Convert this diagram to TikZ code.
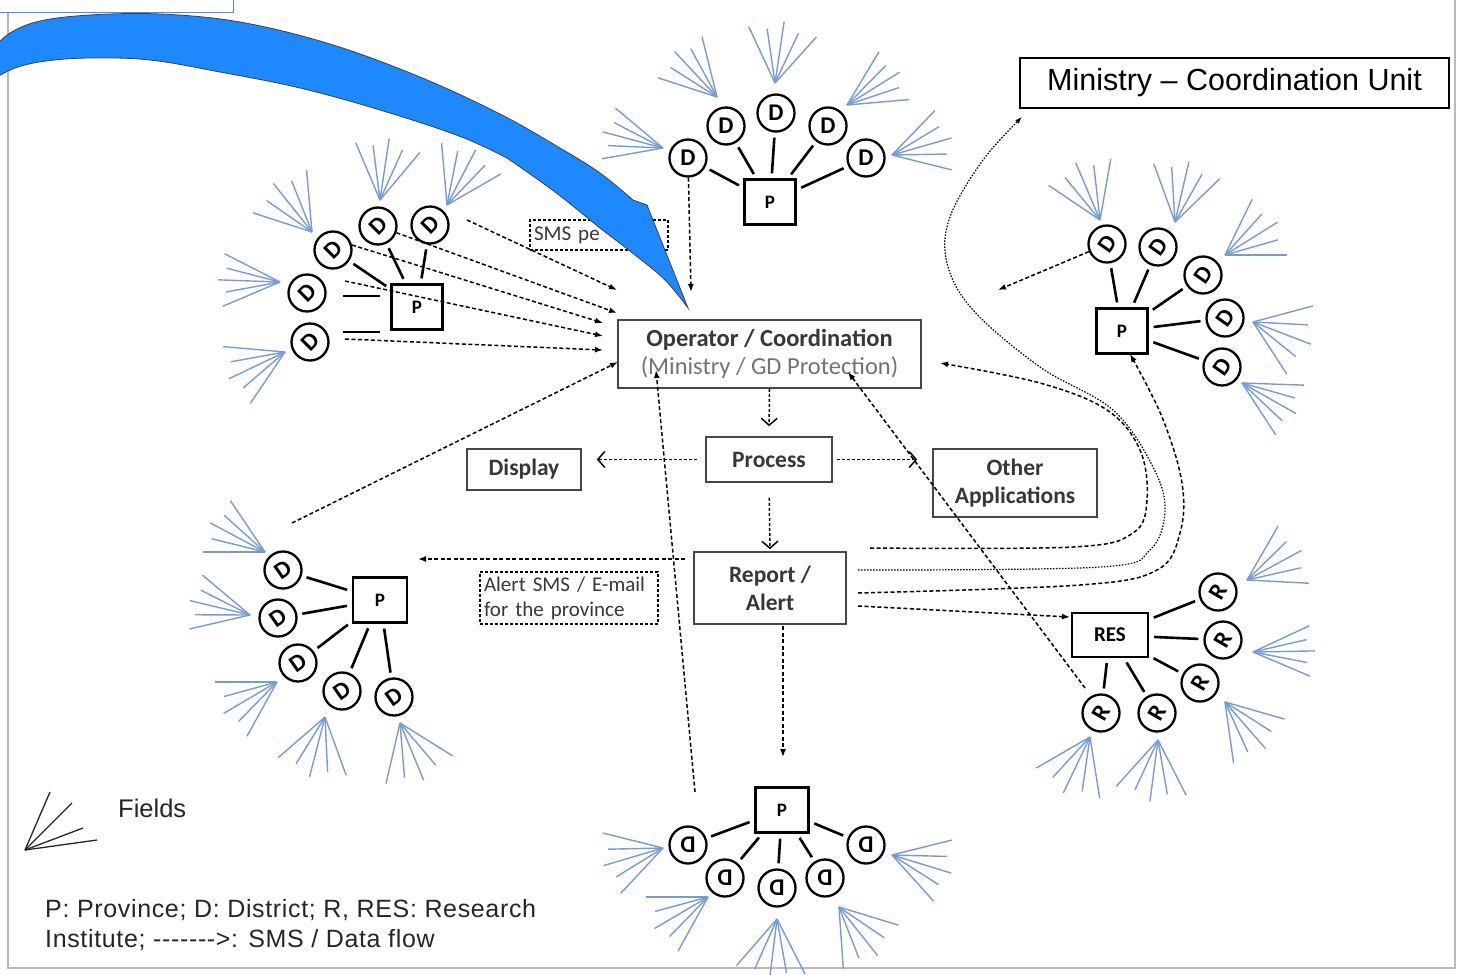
\documentclass[tikz,border=0pt]{standalone}
\usepackage{fontspec}
\setmainfont{Carlito}
\newfontfamily\arial{Liberation Sans}
\newfontfamily\arialsp[LetterSpace=2.6]{Liberation Sans}
\usetikzlibrary{arrows.meta}
\definecolor{fanc}{RGB}{120,155,210}
\definecolor{arrowblue}{RGB}{30,137,255}
\definecolor{rectblue}{RGB}{70,140,240}
\definecolor{boxgray}{RGB}{70,70,70}
\definecolor{txtgray}{RGB}{55,55,55}
\definecolor{subgray}{RGB}{115,115,115}
\newcommand{\fan}[4]{%
  \foreach \k in {0,...,4}{%
    \pgfmathsetmacro{\fanang}{#3+(#4-#3)*\k/4}%
    \pgfmathsetmacro{\fanlen}{62-7*mod(\k,2)}%
    \draw[fanline] (#1,#2) -- ++(\fanang:\fanlen);}}
\begin{document}
\begin{tikzpicture}[x=1pt,y=-1pt,
  pbox/.style={draw, line width=2.3pt, minimum width=51pt, minimum height=45pt, inner sep=0pt, font=\bfseries\fontsize{19}{19}\selectfont},
  dcirc/.style={circle, draw, line width=2.3pt, minimum size=37pt, inner sep=0pt, font=\bfseries\fontsize{24}{24}\selectfont},
  link/.style={line width=2.6pt, shorten <=5pt, shorten >=5pt},
  fanline/.style={draw=fanc, line width=1.4pt},
  cbox/.style={draw=boxgray, line width=1.6pt, inner sep=0pt, align=center, font=\bfseries\fontsize{23.5}{28}\selectfont, text=txtgray},
  dbox/.style={draw=black, dash pattern=on 3pt off 2pt, line width=1.4pt, inner xsep=4pt, inner ysep=0pt, align=left, font=\fontsize{21}{25}\selectfont, text=txtgray},
  flow/.style={line width=1.5pt, dash pattern=on 4pt off 2.5pt, -{Latex[length=8pt,width=6pt]}},
  dotflow/.style={line width=1.2pt, dash pattern=on 1.5pt off 1.5pt, -{Latex[length=7pt,width=5pt]}},
  pflow/.style={line width=1.5pt, dash pattern=on 3pt off 2pt, -{Straight Barb[length=7pt,width=16pt,line width=1.5pt]}}
]
\useasboundingbox (0,0) rectangle (1460,975);
\clip (0,0) rectangle (1460,975);
\fill[white] (0,0) rectangle (1460,975);
% frame
\draw[gray!55, line width=1.2pt] (8,12) -- (8,968) -- (1455,968) -- (1455,0);
\draw[rectblue, line width=1pt] (0,12) -- (233,12) -- (233,0);

% ---------- central boxes ----------
\node[cbox, draw=black, text=black, minimum width=429pt, minimum height=50pt, font=\arial\fontsize{30.5}{30.5}\selectfont] (mcu) at (1234.5,83) {Ministry – Coordination Unit};
\node[cbox, minimum width=303pt, minimum height=68pt, font=\bfseries\fontsize{24.5}{28}\selectfont] (op) at (769.5,354) {Operator / Coordination\\{\mdseries\color{subgray}(Ministry / GD Protection)}};
\node[cbox, minimum width=126pt, minimum height=45pt] (proc) at (769,459.5) {Process};
\node[cbox, minimum width=114pt, minimum height=41pt] (disp) at (524,469.5) {Display};
\node[cbox, minimum width=164pt, minimum height=68pt] (other) at (1015,483) {Other\\Applications};
\node[cbox, minimum width=152pt, minimum height=72pt] (rep) at (770,588) {Report /\\Alert};
\node[dbox, minimum height=30pt, text width=130pt] (sms) at (599,235) {SMS pe};
\node[dbox, minimum height=52pt, text width=170pt] (alert) at (569,598) {Alert SMS / E-mail\\for the province};

% ---------- province boxes ----------
\node[pbox] (pT) at (770,202) {P};
\node[pbox] (pLT) at (417,307) {P};
\node[pbox, minimum width=54pt] (pLB) at (380,600) {P};
\node[pbox] (pR) at (1122,331) {P};
\node[pbox, minimum width=53pt] (pB) at (782,810) {P};
\node[pbox, minimum width=76pt, minimum height=44pt, font=\bfseries\fontsize{21}{21}\selectfont] (res) at (1110,635) {RES};

% ---------- district circles ----------
\foreach \n/\x/\y in {dT1/688/158, dT2/726/126, dT3/776/113, dT4/828/126, dT5/866/158}
  \node[dcirc] (\n) at (\x,\y) {D};
\foreach \n/\x/\y in {dLT1/310/342, dLT2/307/293, dLT3/333/250, dLT4/378/226, dLT5/430/225}
  \node[dcirc] (\n) at (\x,\y) {\rotatebox{45}{D}};
\foreach \n/\x/\y in {dLB1/283/570, dLB2/278/618, dLB3/298/663, dLB4/342/691, dLB5/394/697}
  \node[dcirc] (\n) at (\x,\y) {\rotatebox{35}{D}};
\foreach \n/\x/\y in {dR1/1107/244, dR2/1158/247, dR3/1203/275, dR4/1225/318, dR5/1222/367}
  \node[dcirc] (\n) at (\x,\y) {\rotatebox{55}{D}};
\foreach \n/\x/\y in {dB1/688/845, dB2/725/878, dB3/777/888, dB4/825/878, dB5/866/845}
  \node[dcirc] (\n) at (\x,\y) {\reflectbox{D}};
\foreach \n/\x/\y in {r1/1218/592, r2/1223/640, r3/1200/683, r4/1157/713, r5/1101/713}
  \node[dcirc] (\n) at (\x,\y) {\rotatebox{60}{R}};

% ---------- links ----------
\foreach \a/\b in {dT1/pT, dT2/pT, dT3/pT, dT4/pT, dT5/pT,
                   dLT3/pLT, dLT4/pLT, dLT5/pLT,
                   dLB1/pLB, dLB2/pLB, dLB3/pLB, dLB4/pLB, dLB5/pLB,
                   dR1/pR, dR2/pR, dR3/pR, dR4/pR, dR5/pR,
                   dB1/pB, dB2/pB, dB3/pB, dB4/pB, dB5/pB,
                   r1/res, r2/res, r3/res, r4/res, r5/res}
  \draw[link] (\a) -- (\b);
\coordinate (k1a) at (343,332); \coordinate (k1b) at (380,332);
\coordinate (k2a) at (343,296); \coordinate (k2b) at (380,296);
\draw[line width=2.6pt] (k1a) -- (k1b);
\draw[line width=2.6pt] (k2a) -- (k2b);

% ---------- fields fans ----------
\fan{663}{148}{-140}{-190}
\fan{717}{97}{-104}{-162}
\fan{775}{83}{-115}{-48}
\fan{847}{105}{-59}{-5}
\fan{892}{155}{-46}{14}
\fan{312}{232}{-95}{-162}
\fan{380}{200}{-113}{-50}
\fan{447}{205}{-95}{-30}
\fan{280}{282}{157}{207}
\fan{285}{352}{124}{185}
\fan{265}{552}{-124}{-180}
\fan{250}{615}{-140}{-193}
\fan{277}{682}{180}{119}
\fan{325}{717}{139}{70}
\fan{400}{723}{103}{32}
\fan{1100}{220}{-146}{-80}
\fan{1175}{222}{-110}{-44}
\fan{1225}{255}{-64}{0}
\fan{1253}{322}{-15}{57}
\fan{1242}{383}{2}{57}
\fan{1247}{580}{-60}{3}
\fan{1253}{652}{-25}{23}
\fan{1225}{702}{16}{82}
\fan{1158}{740}{132}{63}
\fan{1090}{737}{150}{81}
\fan{663}{848}{-166}{-227}
\fan{708}{897}{180}{119}
\fan{777}{919}{131}{63}
\fan{839}{907}{17}{86}
\fan{892}{855}{-14}{48}

% ---------- data flows ----------
\coordinate (eT) at (691,292);
\draw[flow] (dT1) -- (eT);
\coordinate (s1) at (467,220); \coordinate (e1) at (617,290);
\coordinate (e2) at (617,313);
\coordinate (s3) at (352,245); \coordinate (e3) at (603,323);
\coordinate (s4) at (345,281); \coordinate (e4) at (603,336);
\coordinate (s5) at (345,339); \coordinate (e5) at (603,350);
\coordinate (s6) at (292,523); \coordinate (e6) at (618,362);
\draw[flow] (s1) -- (e1);
\draw[flow] (dLT4) -- (e2);
\draw[flow] (s3) -- (e3);
\draw[flow] (s4) -- (e4);
\draw[flow] (s5) -- (e5);
\draw[flow] (s6) -- (e6);
\coordinate (s7) at (695,792); \coordinate (e7) at (656,370);
\draw[flow] (s7) -- (e7);
\coordinate (s8) at (1085,688); \coordinate (e8) at (848,372);
\draw[flow] (s8) -- (e8);
\coordinate (e9) at (998,290);
\draw[flow] (dR1) -- (e9);
\coordinate (s10) at (685,559); \coordinate (e10) at (418,559);
\draw[flow] (s10) -- (e10);
\coordinate (s11) at (783,626); \coordinate (e11) at (783,757);
\draw[flow] (s11) -- (e11);
\coordinate (s12) at (858,606); \coordinate (e12) at (1070,617);
\draw[flow] (s12) -- (e12);
% curves
\draw[flow] plot[smooth, tension=0.6] coordinates {(870,548) (1073,547) (1133,533) (1147,500) (1140,450) (1107,410) (1040,383) (940,363)};
\draw[dotflow] plot[smooth, tension=0.6] coordinates {(858,570) (1100,567) (1150,550) (1165,510) (1153,467) (1113,410) (1040,367) (973,310) (947,263) (950,217) (983,160) (1022,117)};
\draw[flow] plot[smooth, tension=0.6] coordinates {(858,593) (1080,585) (1157,570) (1180,533) (1182,483) (1162,417) (1130,354)};
% process flows
\draw[pflow, shorten >=10pt] (op.south) -- (proc.north);
\draw[pflow, shorten <=8pt, shorten >=15pt] (proc.west) -- (proc.west -| disp.east);
\draw[pflow, shorten <=4pt, shorten >=15pt] (proc.east) -- (proc.east -| other.west);
\draw[pflow, shorten <=15pt, shorten >=2pt] (proc.south) -- (rep.north);

% ---------- legend ----------
\coordinate (lf) at (25,850);
\foreach \lx/\ly in {50/792, 72/803, 83/828, 97/840}
  \draw[line width=1.3pt, black!85] (lf) -- (\lx,\ly);
\node[font=\arial\fontsize{25.5}{25.5}\selectfont, anchor=west, inner sep=0pt, text=black!85] (fields) at (118,808) {Fields};
\node[font=\arialsp\fontsize{25}{30}\selectfont, anchor=west, align=left, inner sep=0pt, text=black!85] (legend) at (45,925) {P: Province; D: District; R, RES: Research\\Institute; -------\textgreater: SMS / Data flow};

% ---------- big blue arrow ----------
\fill[arrowblue, draw=black!75, line width=0.8pt]
  plot[smooth, tension=0.6] coordinates {(-8,50) (10,33) (40,21) (90,15) (160,14) (240,22) (330,44) (420,77) (500,114) (560,148) (600,173) (633,200)}
  -- (647,205) -- (688,308)
  -- plot[smooth, tension=0.6] coordinates {(688,308) (665,280) (635,255) (600,228) (555,192) (507,158)}
  -- plot[smooth, tension=0.6] coordinates {(507,158) (459,136) (380,110) (300,88) (220,72) (150,60) (90,58) (46,61) (15,68) (-8,80)}
  -- cycle;
\end{tikzpicture}
\end{document}
